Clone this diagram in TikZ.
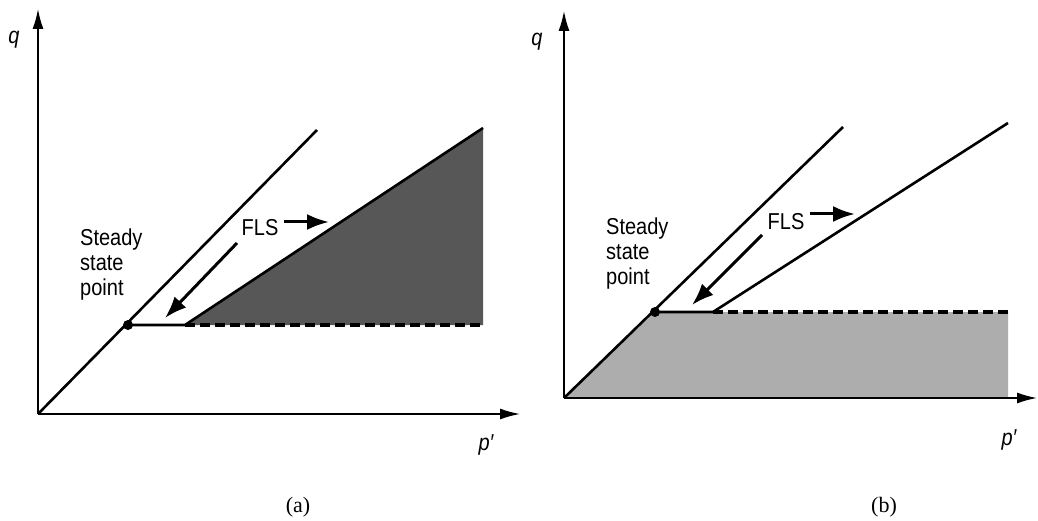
\documentclass[tikz,border=0pt]{standalone}
\usepackage{fontspec}
\setmainfont{Liberation Serif}
\newfontfamily\lsans[FakeStretch=0.87]{Liberation Sans}
\usetikzlibrary{arrows.meta}
\begin{document}
\begin{tikzpicture}[x=1pt,y=-1pt,
 axis/.style={line width=1.6pt,-{Latex[length=20pt,width=11pt]}},
 curve/.style={line width=2.6pt},
 dashline/.style={line width=3.6pt,dash pattern=on 10pt off 5pt},
 ptr/.style={line width=3pt,-{Latex[length=22pt,width=16pt]}},
 lbl/.style={font=\lsans\fontsize{23}{25}\selectfont,inner sep=0pt,align=left},
 axlbl/.style={font=\lsans\itshape\fontsize{23}{24}\selectfont,inner sep=0pt},
 captext/.style={font=\fontsize{22}{24}\selectfont,inner sep=0pt}]
\useasboundingbox[fill=white] (0,0) rectangle (1038,521);
% ---------- panel (a)
\coordinate (Oa) at (38,414);
\coordinate (Ya) at (38,9);
\coordinate (Xa) at (520,414);
\coordinate (Sa) at (128,325);
\coordinate (Ea) at (317,130);
\coordinate (Ka) at (185,325);
\coordinate (Ta) at (483,128);
\coordinate (Ba) at (483,325);
\coordinate (Pa1) at (237,243);
\coordinate (Pa2) at (165,318);
\coordinate (Fa1) at (284,222);
\coordinate (Fa2) at (329,222);
\fill[black!66] (Ka) -- (Ta) -- (Ba) -- cycle;
\draw[axis] (Oa) -- (Ya);
\draw[axis] (Oa) -- (Xa);
\draw[curve] (Oa) -- (Ea);
\draw[curve] (Sa) -- (Ka) -- (Ta);
\draw[dashline] (Ka) -- (Ba);
\fill (Sa) circle (5pt);
\draw[ptr] (Pa1) -- (Pa2);
\draw[ptr] (Fa1) -- (Fa2);
\node[lbl,anchor=north west] (ssa) at (80,229) {Steady\\state\\point};
\node[lbl] (flsa) at (260,228) {FLS};
\node[axlbl] (qa) at (14,40) {q};
\node[axlbl] (pa) at (486,445) {p′};
\node[captext] (capa) at (298,507) {(a)};
% ---------- panel (b)
\coordinate (Ob) at (564,398);
\coordinate (Yb) at (564,11);
\coordinate (Xb) at (1037,398);
\coordinate (Sb) at (655,312);
\coordinate (Eb) at (843,127);
\coordinate (Kb) at (713,312);
\coordinate (Tb) at (1008,123);
\coordinate (Bb) at (1008,312);
\coordinate (Fb) at (1008,398);
\coordinate (Pb1) at (762,235);
\coordinate (Pb2) at (692,305);
\coordinate (Fb1) at (810,214);
\coordinate (Fb2) at (855,214);
\fill[black!32] (Ob) -- (Sb) -- (Bb) -- (Fb) -- cycle;
\draw[axis] (Ob) -- (Yb);
\draw[axis] (Ob) -- (Xb);
\draw[curve] (Ob) -- (Eb);
\draw[curve] (Sb) -- (Kb) -- (Tb);
\draw[dashline] (Kb) -- (Bb);
\fill (Sb) circle (5pt);
\draw[ptr] (Pb1) -- (Pb2);
\draw[ptr] (Fb1) -- (Fb2);
\node[lbl,anchor=north west] (ssb) at (606,218) {Steady\\state\\point};
\node[lbl] (flsb) at (786,222) {FLS};
\node[axlbl] (qb) at (537,42) {q};
\node[axlbl] (pb) at (1009,440) {p′};
\node[captext] (capb) at (884,507) {(b)};
\end{tikzpicture}
\end{document}
